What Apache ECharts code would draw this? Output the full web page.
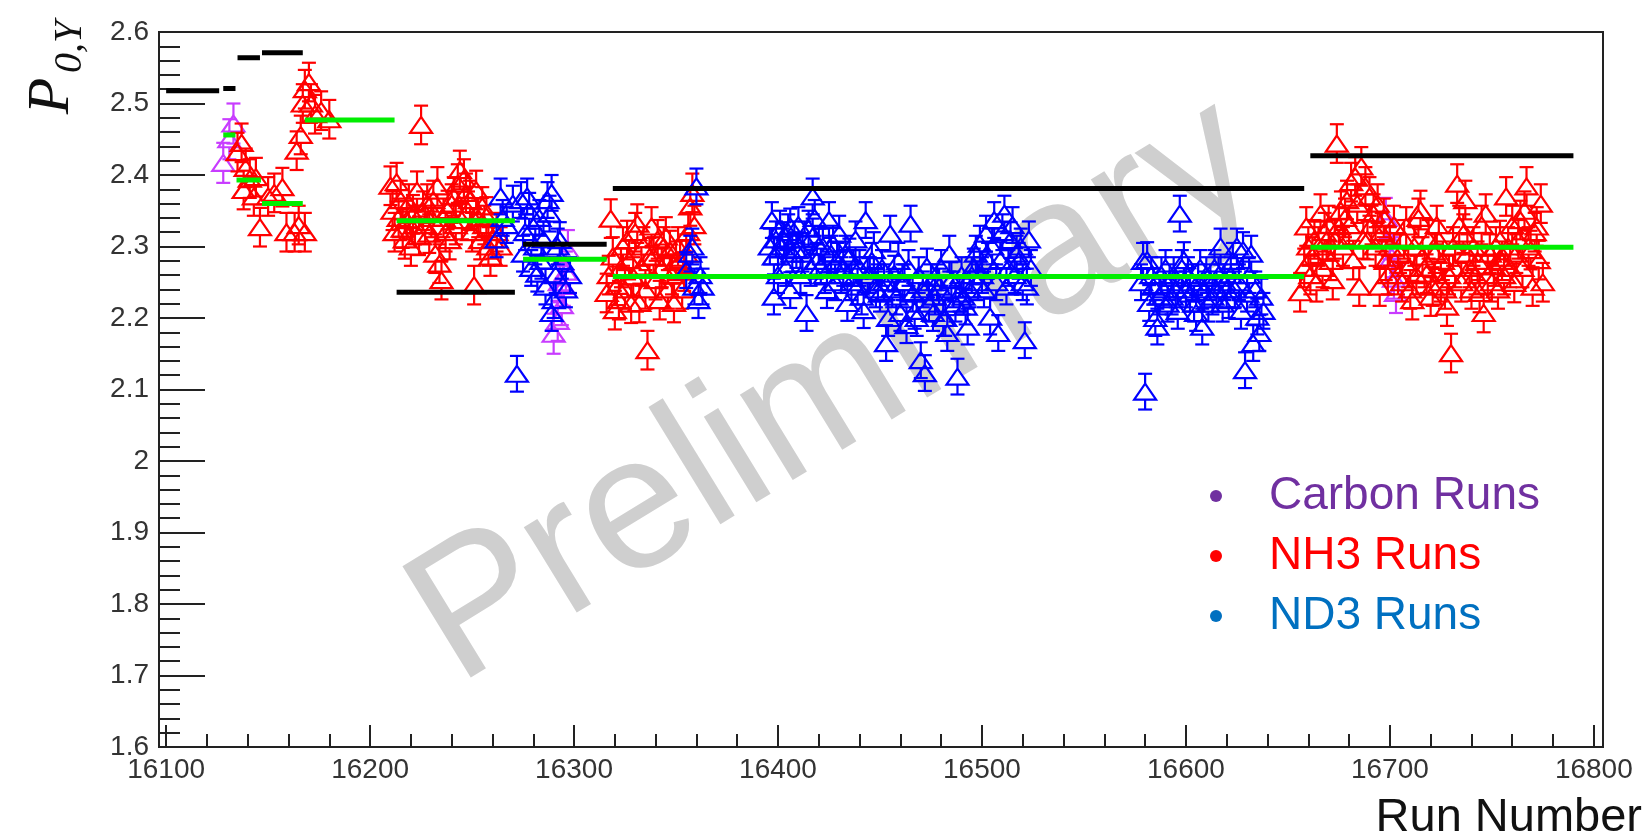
<!DOCTYPE html>
<html>
<head>
<meta charset="utf-8">
<title>P0,Y vs Run Number</title>
<script src="https://cdn.jsdelivr.net/npm/echarts@6/dist/echarts.min.js"></script>
<style>
  html, body { margin: 0; padding: 0; background: #fff; }
  #chart { width: 1648px; height: 839px; }
</style>
</head>
<body>
<div id="chart"></div>
<script>
  'use strict'

  /* data: [run, value] */
  var carbonPoints = [
    [16128, 2.417], [16131, 2.45], [16133, 2.472],
    [16290, 2.178], [16292, 2.196], [16293, 2.25], [16294, 2.218], [16295, 2.245], [16296, 2.265], [16297, 2.295],
    [16698, 2.34], [16700, 2.31], [16701, 2.285], [16702, 2.255], [16703, 2.235]
  ];

  var nh3Points = [
    // 16134 - 16182
    [16135, 2.432], [16137, 2.445], [16138, 2.379], [16139, 2.41], [16141, 2.395], [16143, 2.37], [16144, 2.397],
    [16146, 2.327], [16150, 2.37], [16153, 2.375], [16157, 2.383], [16159, 2.32], [16163, 2.32], [16164, 2.434],
    [16166, 2.456], [16165, 2.33], [16167, 2.5], [16168, 2.52], [16170, 2.53], [16168, 2.32], [16171, 2.5],
    [16173, 2.485], [16176, 2.49], [16180, 2.478],
    // 16210 - 16265
    [16210, 2.385], [16211, 2.35], [16212, 2.32], [16213, 2.39], [16214, 2.34], [16215, 2.365], [16216, 2.325],
    [16217, 2.31], [16218, 2.337], [16219, 2.36], [16220, 2.3], [16221, 2.345], [16222, 2.33], [16223, 2.378],
    [16224, 2.315], [16225, 2.47], [16226, 2.35], [16227, 2.33], [16228, 2.36], [16229, 2.318], [16230, 2.34],
    [16231, 2.365], [16232, 2.29], [16233, 2.384], [16234, 2.276], [16235, 2.253], [16236, 2.34], [16237, 2.32],
    [16238, 2.351], [16239, 2.309], [16240, 2.36], [16241, 2.37], [16242, 2.33], [16243, 2.388], [16244, 2.407],
    [16245, 2.337], [16246, 2.395], [16247, 2.375], [16248, 2.35], [16249, 2.365], [16250, 2.32], [16251, 2.246],
    [16252, 2.379], [16253, 2.34], [16254, 2.309], [16255, 2.356], [16256, 2.33], [16257, 2.342], [16258, 2.3],
    [16259, 2.286], [16260, 2.31], [16262, 2.32], [16264, 2.3],
    // 16316 - 16360
    [16316, 2.235], [16317, 2.26], [16318, 2.339], [16319, 2.286], [16320, 2.211], [16321, 2.245], [16322, 2.225],
    [16323, 2.27], [16324, 2.3], [16325, 2.24], [16326, 2.309], [16327, 2.281], [16328, 2.22], [16329, 2.258],
    [16330, 2.32], [16331, 2.332], [16332, 2.221], [16333, 2.272], [16334, 2.3], [16335, 2.24], [16336, 2.155],
    [16337, 2.285], [16338, 2.328], [16339, 2.286], [16340, 2.253], [16341, 2.31], [16342, 2.225], [16343, 2.27],
    [16344, 2.3], [16345, 2.314], [16346, 2.24], [16347, 2.295], [16348, 2.26], [16349, 2.221], [16350, 2.28],
    [16351, 2.3], [16352, 2.281], [16353, 2.24], [16354, 2.265], [16355, 2.29], [16356, 2.32], [16357, 2.356],
    [16358, 2.375], [16359, 2.33],
    // 16655 - 16778
    [16656, 2.236], [16658, 2.27], [16659, 2.328], [16660, 2.3], [16661, 2.26], [16662, 2.286], [16663, 2.31],
    [16664, 2.25], [16665, 2.3], [16666, 2.346], [16667, 2.27], [16668, 2.32], [16669, 2.309], [16670, 2.33],
    [16671, 2.28], [16672, 2.253], [16673, 2.31], [16674, 2.444], [16675, 2.328], [16676, 2.35], [16677, 2.3],
    [16678, 2.34], [16679, 2.365], [16680, 2.33], [16681, 2.39], [16682, 2.281], [16683, 2.398], [16684, 2.36],
    [16685, 2.244], [16686, 2.412], [16687, 2.31], [16688, 2.384], [16689, 2.309], [16690, 2.37], [16691, 2.33],
    [16692, 2.346], [16693, 2.3], [16694, 2.36], [16695, 2.244], [16696, 2.32], [16697, 2.34], [16698, 2.28],
    [16699, 2.26], [16700, 2.3], [16702, 2.33], [16704, 2.26], [16705, 2.29], [16706, 2.25], [16707, 2.31],
    [16708, 2.328], [16709, 2.27], [16710, 2.24], [16711, 2.225], [16712, 2.3], [16713, 2.26], [16714, 2.34],
    [16715, 2.351], [16716, 2.286], [16717, 2.27], [16718, 2.262], [16719, 2.31], [16720, 2.23], [16721, 2.244],
    [16722, 2.29], [16723, 2.33], [16724, 2.309], [16725, 2.25], [16726, 2.28], [16727, 2.24], [16728, 2.216],
    [16729, 2.26], [16730, 2.151], [16731, 2.3], [16732, 2.27], [16733, 2.388], [16734, 2.33], [16735, 2.25],
    [16736, 2.318], [16737, 2.365], [16738, 2.29], [16739, 2.27], [16740, 2.24], [16741, 2.3], [16742, 2.26],
    [16743, 2.28], [16744, 2.235], [16745, 2.33], [16746, 2.207], [16747, 2.346], [16748, 2.26], [16749, 2.29],
    [16750, 2.25], [16751, 2.272], [16752, 2.3], [16753, 2.24], [16754, 2.309], [16755, 2.28], [16756, 2.26],
    [16757, 2.37], [16758, 2.3], [16759, 2.27], [16760, 2.33], [16761, 2.249], [16762, 2.29], [16763, 2.31],
    [16764, 2.337], [16765, 2.27], [16766, 2.35], [16767, 2.384], [16768, 2.3], [16769, 2.295], [16770, 2.244],
    [16771, 2.32], [16772, 2.328], [16773, 2.281], [16774, 2.36], [16775, 2.25]
  ];

  var nd3Points = [
    // 16262 - 16300
    [16262, 2.31], [16264, 2.37], [16265, 2.34], [16267, 2.33], [16270, 2.36], [16272, 2.122], [16274, 2.365],
    [16275, 2.29], [16276, 2.32], [16277, 2.37], [16278, 2.35], [16279, 2.27], [16280, 2.328], [16281, 2.3],
    [16282, 2.262], [16283, 2.34], [16284, 2.28], [16285, 2.31], [16286, 2.244], [16287, 2.365], [16288, 2.346],
    [16289, 2.375], [16289, 2.207], [16290, 2.225], [16291, 2.26], [16292, 2.3], [16293, 2.309], [16294, 2.28],
    [16296, 2.24], [16298, 2.26],
    // 16355 - 16364
    [16355, 2.267], [16357, 2.29], [16358, 2.3], [16359, 2.244], [16360, 2.384], [16361, 2.225], [16362, 2.26],
    [16363, 2.244],
    // 16396 - 16525
    [16396, 2.3], [16397, 2.337], [16398, 2.286], [16398, 2.23], [16399, 2.31], [16400, 2.26], [16401, 2.325],
    [16402, 2.3], [16403, 2.309], [16404, 2.27], [16405, 2.32], [16406, 2.328], [16406, 2.239], [16407, 2.29],
    [16408, 2.31], [16409, 2.295], [16410, 2.33], [16411, 2.26], [16412, 2.29], [16413, 2.31], [16414, 2.207],
    [16415, 2.325], [16416, 2.27], [16417, 2.37], [16417, 2.314], [16418, 2.34], [16419, 2.28], [16420, 2.3],
    [16421, 2.272], [16422, 2.3], [16423, 2.26], [16424, 2.239], [16425, 2.337], [16426, 2.29], [16427, 2.304],
    [16428, 2.25], [16429, 2.28], [16430, 2.318], [16431, 2.26], [16432, 2.27], [16433, 2.29], [16434, 2.221],
    [16435, 2.286], [16436, 2.25], [16437, 2.27], [16438, 2.31], [16439, 2.244], [16440, 2.27], [16441, 2.23],
    [16442, 2.211], [16443, 2.337], [16444, 2.26], [16445, 2.26], [16446, 2.28], [16447, 2.295], [16448, 2.24],
    [16449, 2.25], [16450, 2.234], [16451, 2.27], [16452, 2.25], [16453, 2.165], [16454, 2.2], [16455, 2.318],
    [16456, 2.24], [16457, 2.262], [16458, 2.23], [16459, 2.28], [16460, 2.207], [16461, 2.25], [16462, 2.25],
    [16463, 2.19], [16464, 2.27], [16465, 2.332], [16466, 2.234], [16467, 2.21], [16468, 2.2], [16469, 2.26],
    [16470, 2.141], [16471, 2.24], [16472, 2.123], [16473, 2.272], [16474, 2.22], [16475, 2.25], [16476, 2.207],
    [16477, 2.23], [16478, 2.25], [16479, 2.244], [16480, 2.27], [16481, 2.2], [16482, 2.2], [16483, 2.179],
    [16484, 2.29], [16485, 2.253], [16486, 2.24], [16487, 2.22], [16488, 2.118], [16489, 2.234], [16490, 2.26],
    [16491, 2.23], [16492, 2.216], [16493, 2.188], [16494, 2.24], [16495, 2.26], [16496, 2.272], [16497, 2.29],
    [16498, 2.25], [16499, 2.304], [16500, 2.26], [16501, 2.24], [16502, 2.318], [16503, 2.28], [16504, 2.202],
    [16505, 2.3], [16506, 2.337], [16507, 2.25], [16508, 2.179], [16509, 2.281], [16510, 2.32], [16511, 2.346],
    [16512, 2.244], [16513, 2.27], [16514, 2.309], [16515, 2.33], [16516, 2.26], [16517, 2.29], [16518, 2.28],
    [16519, 2.3], [16520, 2.25], [16521, 2.169], [16522, 2.244], [16523, 2.31], [16524, 2.27],
    // 16578 - 16640
    [16578, 2.25], [16579, 2.28], [16580, 2.097], [16581, 2.281], [16582, 2.221], [16583, 2.26], [16584, 2.244],
    [16585, 2.2], [16586, 2.188], [16587, 2.23], [16588, 2.26], [16589, 2.24], [16590, 2.27], [16591, 2.22],
    [16592, 2.25], [16593, 2.23], [16594, 2.26], [16595, 2.24], [16596, 2.21], [16597, 2.346], [16598, 2.27],
    [16599, 2.281], [16600, 2.24], [16601, 2.26], [16602, 2.234], [16603, 2.25], [16604, 2.22], [16605, 2.207],
    [16606, 2.25], [16607, 2.27], [16608, 2.188], [16609, 2.24], [16610, 2.26], [16611, 2.22], [16612, 2.25],
    [16613, 2.23], [16614, 2.27], [16615, 2.24], [16616, 2.26], [16617, 2.3], [16618, 2.22], [16619, 2.25],
    [16620, 2.24], [16621, 2.225], [16622, 2.26], [16623, 2.28], [16624, 2.24], [16625, 2.3], [16626, 2.25],
    [16627, 2.21], [16628, 2.295], [16629, 2.127], [16630, 2.234], [16631, 2.26], [16632, 2.29], [16633, 2.165],
    [16634, 2.24], [16635, 2.202], [16636, 2.179], [16637, 2.23], [16638, 2.21]
  ];

  // half-size of the error bars
  var carbonErr = 0.028;
  var nh3Err = 0.027;
  var nd3Err = 0.025;

  // fit segments: [run from, run to, value]
  var blackFits = [
    [16100, 16126, 2.518], [16128, 16134, 2.521], [16135, 16146, 2.564], [16147, 16167, 2.571],
    [16213, 16271, 2.236], [16275, 16316, 2.303], [16319, 16658, 2.381], [16661, 16790, 2.427]
  ];
  var greenFits = [
    [16128, 16134, 2.456], [16134.5, 16146.5, 2.393], [16147, 16167, 2.36], [16168, 16212, 2.477],
    [16213, 16271, 2.336], [16275, 16316, 2.282], [16319, 16658, 2.258], [16661, 16790, 2.299]
  ];

  var xMajorTicks = [16100, 16200, 16300, 16400, 16500, 16600, 16700, 16800];
  var xMinorTicks = [];
  for (var t = 16100; t <= 16800; t += 20) xMinorTicks.push(t);

  var chart = echarts.init(document.getElementById('chart'));

  function pointRenderer(err, color) {
    return function (params, api) {
      var x = api.value(0), y = api.value(1);
      var c = api.coord([x, y]);
      var top = api.coord([x, y + err]);
      var bot = api.coord([x, y - err]);
      var hw = 11, hh = 8, cap = 7;
      var st = function () { return { stroke: color, lineWidth: 2.2, fill: null }; };
      return {
        type: 'group',
        children: [
          { type: 'line', shape: { x1: c[0], y1: top[1], x2: c[0], y2: c[1] - hh }, style: st() },
          { type: 'line', shape: { x1: c[0], y1: c[1] + hh, x2: c[0], y2: bot[1] }, style: st() },
          { type: 'line', shape: { x1: c[0] - cap, y1: top[1], x2: c[0] + cap, y2: top[1] }, style: st() },
          { type: 'line', shape: { x1: c[0] - cap, y1: bot[1], x2: c[0] + cap, y2: bot[1] }, style: st() },
          { type: 'polygon', shape: { points: [[c[0], c[1] - hh], [c[0] + hw, c[1] + hh], [c[0] - hw, c[1] + hh]] }, style: st() }
        ]
      };
    };
  }

  function fitRenderer(color) {
    return function (params, api) {
      var a = api.coord([api.value(0), api.value(2)]);
      var b = api.coord([api.value(1), api.value(2)]);
      return {
        type: 'line',
        shape: { x1: a[0], y1: a[1], x2: b[0], y2: b[1] },
        style: { stroke: color, lineWidth: 5 }
      };
    };
  }

  var axisColor = '#222';
  var labelFont = 'Liberation Sans, Arial, sans-serif';

  var option = {
    animation: false,
    backgroundColor: '#fff',
    grid: {
      left: 159, right: 45, top: 32, bottom: 92,
      show: true, borderColor: axisColor, borderWidth: 2,
      outerBoundsMode: 'none'
    },
    xAxis: [{
      type: 'value', min: 16096.5, max: 16804.5, position: 'bottom',
      axisLine: { show: true, lineStyle: { color: axisColor, width: 2 } },
      axisTick: { show: true, inside: true, length: 22, customValues: xMajorTicks, lineStyle: { color: axisColor, width: 2 } },
      axisLabel: {
        show: true, customValues: xMajorTicks, fontSize: 28, fontFamily: labelFont, color: '#333', margin: 9,
        formatter: function (v) { return String(v); }
      },
      splitLine: { show: false }
    }, {
      type: 'value', min: 16096.5, max: 16804.5, position: 'bottom',
      axisLine: { show: false },
      axisTick: { show: true, inside: true, length: 13, customValues: xMinorTicks, lineStyle: { color: axisColor, width: 2 } },
      axisLabel: { show: false },
      splitLine: { show: false }
    }],
    yAxis: {
      type: 'value', min: 1.6, max: 2.6, interval: 0.1,
      axisLine: { show: true, lineStyle: { color: axisColor, width: 2 } },
      axisTick: { show: true, inside: true, length: 46, lineStyle: { color: axisColor, width: 2 } },
      minorTick: { show: true, splitNumber: 5, length: 21, lineStyle: { color: axisColor, width: 2 } },
      axisLabel: { fontSize: 28, fontFamily: labelFont, color: '#333', margin: 10 },
      splitLine: { show: false }
    },
    legend: {
      orient: 'vertical', left: 1205, top: 468, itemGap: 14,
      itemWidth: 12, itemHeight: 12, selectedMode: false,
      textStyle: { fontSize: 46, fontFamily: labelFont, lineHeight: 46, padding: [0, 0, 0, 42] },
      data: [
        { name: 'Carbon Runs', icon: 'circle', itemStyle: { color: '#7030a0' }, textStyle: { color: '#7030a0' } },
        { name: 'NH3 Runs', icon: 'circle', itemStyle: { color: '#ff0000' }, textStyle: { color: '#ff0000' } },
        { name: 'ND3 Runs', icon: 'circle', itemStyle: { color: '#0070c0' }, textStyle: { color: '#0070c0' } }
      ]
    },
    graphic: [
      {
        type: 'text', x: 430, y: 641, rotation: 0.55, z: 0, silent: true,
        style: { text: 'Preliminary', fill: '#cfcfcf', font: '190px Liberation Sans, Arial, sans-serif', align: 'left', verticalAlign: 'middle' }
      },
      {
        type: 'text', x: 52, y: 96, rotation: Math.PI / 2,
        style: { text: 'P', fill: '#111', font: 'italic 60px Liberation Serif, Times New Roman, serif', align: 'center', verticalAlign: 'middle' }
      },
      {
        type: 'text', x: 70, y: 47, rotation: Math.PI / 2,
        style: { text: '0,Y', fill: '#111', font: 'italic 40px Liberation Serif, Times New Roman, serif', align: 'center', verticalAlign: 'middle' }
      },
      {
        type: 'text', x: 1642, y: 818,
        style: { text: 'Run Number', fill: '#111', font: '47px Liberation Sans, Arial, sans-serif', align: 'right', verticalAlign: 'middle' }
      }
    ],
    series: [
      {
        name: 'Carbon Runs', type: 'custom', xAxisIndex: 0, z: 3,
        renderItem: pointRenderer(carbonErr, '#c83cff'),
        encode: { x: 0, y: 1 }, data: carbonPoints
      },
      {
        name: 'NH3 Runs', type: 'custom', xAxisIndex: 0, z: 4,
        renderItem: pointRenderer(nh3Err, '#ff0000'),
        encode: { x: 0, y: 1 }, data: nh3Points
      },
      {
        name: 'ND3 Runs', type: 'custom', xAxisIndex: 0, z: 5,
        renderItem: pointRenderer(nd3Err, '#0000ff'),
        encode: { x: 0, y: 1 }, data: nd3Points
      },
      {
        name: 'Fit black', type: 'custom', xAxisIndex: 0, z: 6,
        renderItem: fitRenderer('#000000'),
        encode: { x: [0, 1], y: 2 }, data: blackFits
      },
      {
        name: 'Fit green', type: 'custom', xAxisIndex: 0, z: 7,
        renderItem: fitRenderer('#00ee00'),
        encode: { x: [0, 1], y: 2 }, data: greenFits
      }
    ]
  };

  chart.setOption(option);
</script>
</body>
</html>
